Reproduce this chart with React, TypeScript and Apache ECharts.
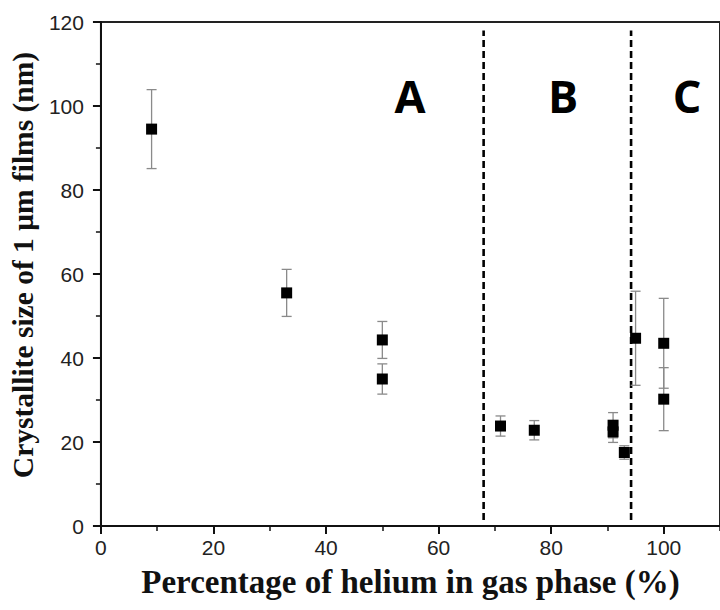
import React, { useEffect, useRef } from "react";
import * as echarts from "echarts";

const helium = [9, 33, 50, 50, 71, 77, 91, 91, 93, 95, 100, 100];
const crystalSize = [94.5, 55.5, 44.3, 35, 23.8, 22.8, 24, 22.4, 17.5, 44.7, 43.5, 30.2];
const sizeError = [9.4, 5.6, 4.4, 3.6, 2.4, 2.3, 3, 2.5, 1.6, 11.2, 10.7, 7.5];
const boundaries = [68, 94.2];
const regionLabels = ["A", "B", "C"];
const regionLabelX = [410, 563, 687];

export default function App() {
  const ref = useRef<HTMLDivElement>(null);
  useEffect(() => {
    if (!ref.current) return;
    const chart = echarts.init(ref.current, null, { renderer: "svg" });
    const points = helium.map((x, i) => [x, crystalSize[i]]);
    const errData = helium.map((x, i) => [x, crystalSize[i] - sizeError[i], crystalSize[i] + sizeError[i]]);
    const axisFont = { fontFamily: "Liberation Sans", fontSize: 21, color: "#222" };
    const titleBase = { fontFamily: "Liberation Serif", fontWeight: "bold" as const, color: "#111" };
    const option: any = {
      animation: false,
      backgroundColor: "#fff",
      grid: {
        left: 100, top: 22, right: -7, bottom: 84,
        show: true, borderColor: "#222", borderWidth: 2, backgroundColor: "transparent",
      },
      xAxis: [
        {
          type: "value", min: 0, max: 110, interval: 20, position: "bottom",
          name: "Percentage of helium in gas phase (%)", nameLocation: "middle", nameGap: 39,
          nameTextStyle: { ...titleBase, fontSize: 33 },
          axisLine: { show: true, lineStyle: { color: "#111", width: 2 } },
          axisTick: { show: true, length: 8, lineStyle: { color: "#111", width: 2 } },
          axisLabel: { ...axisFont, margin: 11, showMaxLabel: false },
          splitLine: { show: false },
        },
        {
          type: "value", min: 0, max: 110, interval: 10, position: "bottom",
          axisLine: { show: false },
          axisTick: { show: true, length: 5, lineStyle: { color: "#111", width: 1.5 } },
          axisLabel: { show: false },
          splitLine: { show: false },
        },
      ],
      yAxis: {
        type: "value", min: 0, max: 120, interval: 20,
        name: "Crystallite size of 1 \u03bcm films (nm)", nameLocation: "middle", nameGap: 53,
        nameTextStyle: { ...titleBase, fontSize: 29.5, padding: [0, 0, 0, 18] },
        axisLine: { show: true, lineStyle: { color: "#111", width: 2 } },
        axisTick: { show: true, length: 8, lineStyle: { color: "#111", width: 2 } },
        minorTick: { show: true, splitNumber: 2, length: 5, lineStyle: { color: "#111", width: 1.5 } },
        axisLabel: { ...axisFont, margin: 17 },
        splitLine: { show: false },
      },
      graphic: regionLabels.map((t, i) => ({
        type: "text", x: regionLabelX[i], y: 95,
        style: {
          text: t, fontFamily: "Open Sans", fontWeight: "bold", fontSize: 45,
          fill: "#000", align: "center", verticalAlign: "middle",
        },
        z: 10,
      })),
      series: [
        ...boundaries.map((b) => ({
          type: "line", xAxisIndex: 0, data: [[b, 1.4], [b, 118]], symbol: "none",
          lineStyle: { color: "#000", width: 2.6, type: [7, 4] }, z: 2, silent: true,
        })),
        {
          type: "custom", xAxisIndex: 0, data: errData, z: 3,
          renderItem: (params: any, api: any) => {
            const x = api.value(0);
            const lo = api.coord([x, api.value(1)]);
            const hi = api.coord([x, api.value(2)]);
            const cap = 5;
            const style = { stroke: "#8a8a8a", lineWidth: 1.3 };
            return {
              type: "group",
              children: [
                { type: "line", shape: { x1: lo[0], y1: lo[1], x2: hi[0], y2: hi[1] }, style },
                { type: "line", shape: { x1: lo[0] - cap, y1: lo[1], x2: lo[0] + cap, y2: lo[1] }, style },
                { type: "line", shape: { x1: hi[0] - cap, y1: hi[1], x2: hi[0] + cap, y2: hi[1] }, style },
              ],
            };
          },
        },
        {
          type: "scatter", xAxisIndex: 0, data: points, symbol: "rect", symbolSize: 11,
          itemStyle: { color: "#000", opacity: 1 }, z: 4,
        },
      ],
    };
    chart.setOption(option);
    return () => chart.dispose();
  }, []);
  return (
    <div
      ref={ref}
      style={{ position: "fixed", left: 0, top: 0, width: 720, height: 610, background: "#fff" }}
    />
  );
}
